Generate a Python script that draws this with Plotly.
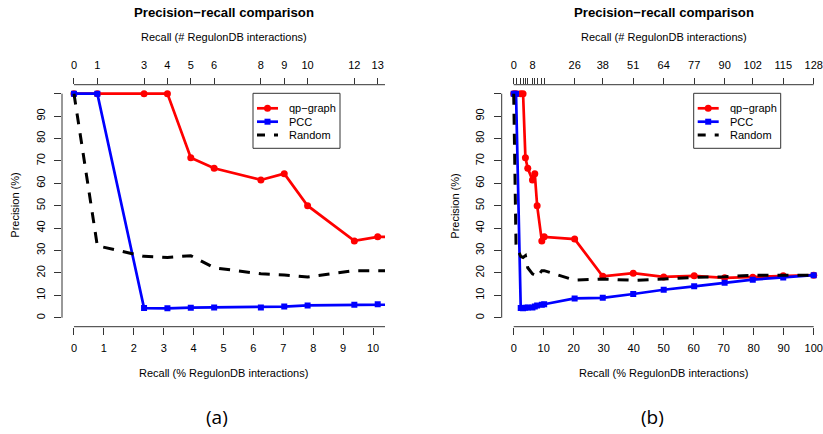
import plotly.graph_objects as go

# ---------------- data ----------------
total_interactions = 128
counts = [0, 1, 3, 4, 5, 6, 8, 9, 10, 12, 13, 26, 38, 51, 64, 77, 90, 102, 115, 128]
qp_graph = [100, 100, 100, 100, 71.4, 66.7, 61.5, 64.3, 50.0, 34.3, 36.1,
            35.1, 18.5, 19.9, 18.2, 18.7, 17.8, 18.1, 18.7, 19.0]
pcc = [100, 100, 4.3, 4.2, 4.5, 4.6, 4.6, 5.0, 5.5, 5.8, 6.0,
       8.6, 8.9, 10.6, 12.5, 14.0, 15.6, 17.0, 18.0, 19.0]
random_pr = [100, 32.1, 27.4, 26.9, 27.7, 22.3, 19.6, 19.1, 18.2, 21.0, 21.0,
             16.8, 17.3, 16.7, 17.3, 18.0, 18.3, 19.0, 19.0, 19.0]
top_labels_b = [0, 8, 26, 38, 51, 64, 77, 90, 102, 115, 128]
bottom_ticks_a = list(range(0, 11, 1))
bottom_ticks_b = list(range(0, 101, 10))
y_ticks = list(range(0, 101, 10))
y_labels = [str(v) for v in y_ticks[:-1]] + [""]
series_names = ["qp\u2212graph", "PCC", "Random"]

recall_pct = [c * 100.0 / total_interactions for c in counts]

# ---------------- layout helpers ----------------
W, H = 823, 434
def px(x):
    return x / W
def py(y):
    return 1 - y / H

FONT = "Liberation Sans, Arial, Helvetica, sans-serif"
AXC = "#333333"
RED, BLUE = "#FF0000", "#0000FF"

xa_dom = [px(62), px(385)]
xb_dom = [px(501.7), 1.0]
y_dom = [py(326.7), py(84.7)]
xa_rng = [-0.4, 10.4]
xb_rng = [-4, -4 + (W - 501.7) / 3.0]
y_rng = [-4, 104]

fig = go.Figure()

panels = [("x", "y", "x3"), ("x2", "y2", "x4")]
for xa, ya, xt in panels:
    fig.add_trace(go.Scatter(x=recall_pct, y=qp_graph, xaxis=xa, yaxis=ya,
                             mode="lines+markers", line=dict(color=RED, width=2.7),
                             marker=dict(color=RED, size=7, symbol="circle"),
                             showlegend=False, hoverinfo="skip"))
    fig.add_trace(go.Scatter(x=recall_pct, y=pcc, xaxis=xa, yaxis=ya,
                             mode="lines+markers", line=dict(color=BLUE, width=2.7),
                             marker=dict(color=BLUE, size=6, symbol="square"),
                             showlegend=False, hoverinfo="skip"))
    fig.add_trace(go.Scatter(x=recall_pct, y=random_pr, xaxis=xt, yaxis=ya,
                             mode="lines", line=dict(color="black", width=3, dash="11px,9px"),
                             showlegend=False, hoverinfo="skip"))

tickfont = dict(family=FONT, size=11, color="black")
common_x = dict(showgrid=False, zeroline=False, showline=False, ticks="outside",
                tickcolor=AXC, tickwidth=1, tickfont=tickfont, fixedrange=True)

top_text_a = [str(c) for c in counts]
top_text_b = [str(c) if c in top_labels_b else "" for c in counts]

fig.update_layout(
    width=W, height=H, autosize=False,
    margin=dict(l=0, r=0, t=0, b=0),
    paper_bgcolor="white", plot_bgcolor="white",
    xaxis=dict(domain=xa_dom, range=xa_rng, anchor="y", tickvals=bottom_ticks_a,
               ticklen=7, ticklabelstandoff=4, **common_x),
    xaxis2=dict(domain=xb_dom, range=xb_rng, anchor="y2", tickvals=bottom_ticks_b,
                ticklen=7, ticklabelstandoff=4, **common_x),
    xaxis3=dict(overlaying="x", side="top", anchor="y", range=xa_rng,
                tickvals=recall_pct, ticktext=top_text_a, ticklen=6,
                ticklabelstandoff=4, **common_x),
    xaxis4=dict(overlaying="x2", side="top", anchor="y2", range=xb_rng,
                tickvals=recall_pct, ticktext=top_text_b, ticklen=6,
                ticklabelstandoff=4, **common_x),
    yaxis=dict(domain=y_dom, range=y_rng, anchor="x", tickvals=y_ticks, ticktext=y_labels,
               tickangle=-90, ticklen=7, ticklabelstandoff=5, **common_x),
    yaxis2=dict(domain=y_dom, range=y_rng, anchor="x2", tickvals=y_ticks, ticktext=y_labels,
                tickangle=-90, ticklen=7, ticklabelstandoff=5, **common_x),
)

shapes = []
ann = []
line_style = dict(color=AXC, width=1)
# axis lines (R style: from first tick to end)
for xr, yr, xmax in [("x", "y", xa_rng[1]), ("x2", "y2", 100)]:
    shapes.append(dict(type="line", xref=xr, yref=yr + " domain", x0=0, x1=xmax, y0=0, y1=0, line=line_style))
    shapes.append(dict(type="line", xref=xr, yref=yr + " domain", x0=0, x1=xmax, y0=1, y1=1, line=line_style))
    shapes.append(dict(type="line", xref=xr + " domain", yref=yr, x0=0, x1=0, y0=0, y1=100, line=line_style))

centers = [(62 + 385) / 2.0, (501.7 + 825.7) / 2.0]
ylab_x = [15, 455]
captions = ["(a)", "(b)"]
cap_x = [217, 652]
for i, cx in enumerate(centers):
    ann.append(dict(text="<b>Precision\u2212recall comparison</b>", x=px(cx), y=py(12.5),
                    xref="paper", yref="paper", showarrow=False, xanchor="center", yanchor="middle",
                    font=dict(family=FONT, size=13.2, color="black")))
    ann.append(dict(text="Recall (# RegulonDB interactions)", x=px(cx), y=py(37),
                    xref="paper", yref="paper", showarrow=False, xanchor="center", yanchor="middle",
                    font=dict(family=FONT, size=11, color="black")))
    ann.append(dict(text="Recall (% RegulonDB interactions)", x=px(cx), y=py(373),
                    xref="paper", yref="paper", showarrow=False, xanchor="center", yanchor="middle",
                    font=dict(family=FONT, size=11, color="black")))
    ann.append(dict(text="Precision (%)", x=px(ylab_x[i]), y=py(205.7), textangle=-90,
                    xref="paper", yref="paper", showarrow=False, xanchor="center", yanchor="middle",
                    font=dict(family=FONT, size=11, color="black")))
    ann.append(dict(text=captions[i], x=px(cap_x[i]), y=py(417),
                    xref="paper", yref="paper", showarrow=False, xanchor="center", yanchor="middle",
                    font=dict(family="Open Sans, DejaVu Sans, sans-serif", size=19, color="black")))

# legends (one per panel)
legend_left = [253, 693.7]
leg_rows = [108.3, 121.7, 135.0]
leg_colors = [RED, BLUE, "black"]
for bl in legend_left:
    shapes.append(dict(type="rect", xref="paper", yref="paper", x0=px(bl), x1=px(bl + 87),
                       y0=py(148.3), y1=py(93.3), line=dict(color=AXC, width=1), fillcolor="white",
                       layer="above"))
    for j, yy in enumerate(leg_rows):
        if j < 2:
            shapes.append(dict(type="line", xref="paper", yref="paper", x0=px(bl + 4), x1=px(bl + 25),
                               y0=py(yy), y1=py(yy), line=dict(color=leg_colors[j], width=2.7)))
            r = 3.5 if j == 0 else 3
            shapes.append(dict(type="circle" if j == 0 else "rect", xref="paper", yref="paper",
                               x0=px(bl + 14.5 - r), x1=px(bl + 14.5 + r),
                               y0=py(yy + r), y1=py(yy - r),
                               line=dict(color=leg_colors[j], width=0), fillcolor=leg_colors[j]))
        else:
            shapes.append(dict(type="line", xref="paper", yref="paper", x0=px(bl + 4), x1=px(bl + 12),
                               y0=py(yy), y1=py(yy), line=dict(color="black", width=3)))
            shapes.append(dict(type="line", xref="paper", yref="paper", x0=px(bl + 21), x1=px(bl + 25),
                               y0=py(yy), y1=py(yy), line=dict(color="black", width=3)))
        ann.append(dict(text=series_names[j], x=px(bl + 34), y=py(yy), xref="paper", yref="paper",
                        showarrow=False, xanchor="left", yanchor="middle",
                        font=dict(family=FONT, size=11, color="black")))

fig.update_layout(shapes=shapes, annotations=ann)
fig.write_html("out.html", config={"displayModeBar": False},
               post_script="document.body.style.margin='0';document.body.style.overflow='hidden';")
